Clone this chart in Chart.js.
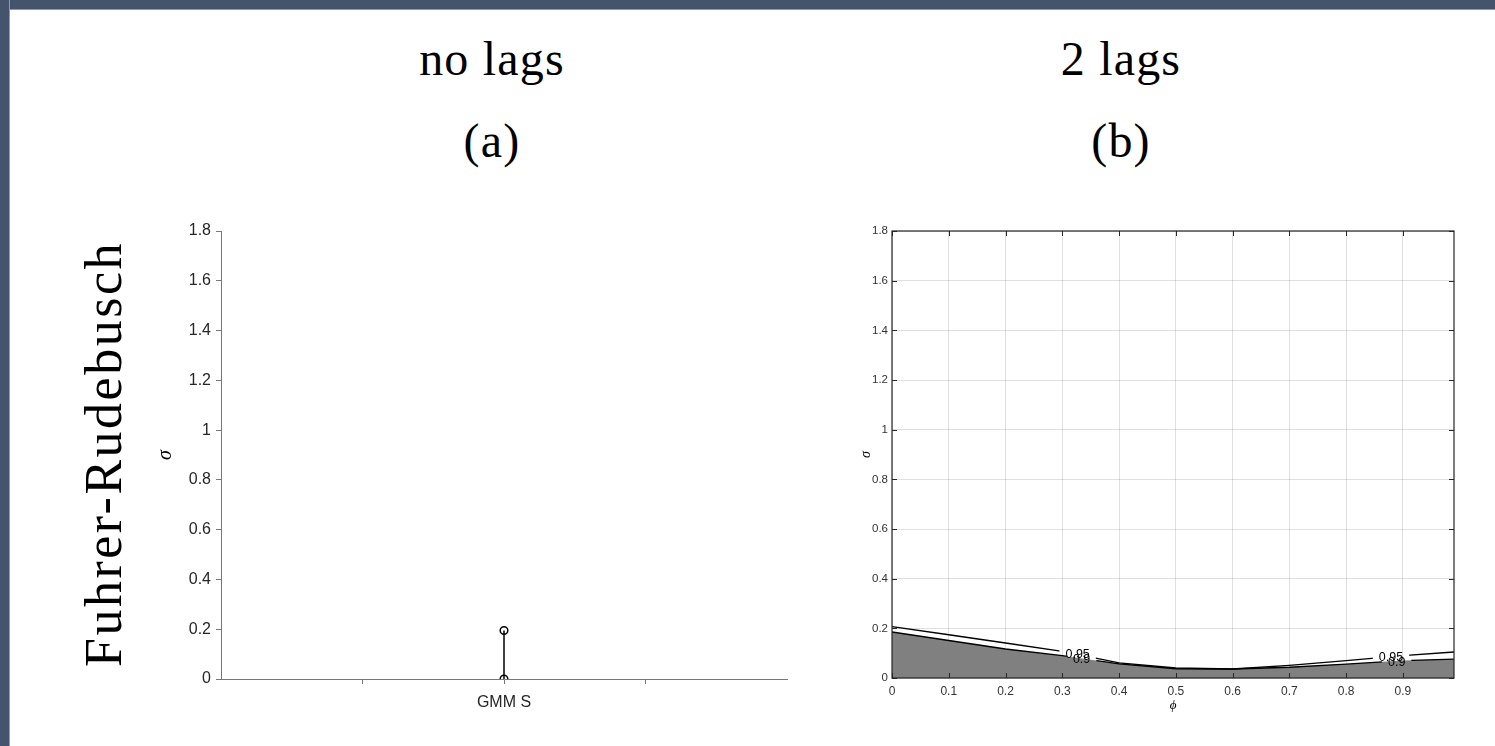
<!DOCTYPE html>
<html>
<head>
<meta charset="utf-8">
<title>Fuhrer-Rudebusch</title>
<script src="https://cdn.jsdelivr.net/npm/chart.js@4.4.0/dist/chart.umd.min.js"></script>
<style>
    html, body { margin: 0; padding: 0; background: #fff; }
    #page { position: relative; width: 1495px; height: 746px; overflow: hidden; background: #fff; }
    .frame-top { position: absolute; left: 0; top: 0; width: 1495px; height: 9px; background: #44546c; border-bottom: 1px solid #8d9bb0; }
    .frame-left { position: absolute; left: 0; top: 0; width: 9px; height: 746px; background: #44546c; border-right: 1px solid #8d9bb0; }
    .title { position: absolute; width: 300px; text-align: center; font-family: 'Liberation Serif', serif; font-size: 48px; line-height: 1; color: #000; letter-spacing: 1.2px; white-space: nowrap; }
    .row-label { position: absolute; left: -146px; top: 428px; width: 500px; height: 52px; text-align: center; font-family: 'Liberation Serif', serif; font-size: 52px; line-height: 1; color: #000; letter-spacing: 2.5px; transform: rotate(-90deg); white-space: nowrap; }
    canvas { position: absolute; }
</style>
</head>
<body>
<div id="page">
    <div class="frame-top"></div>
    <div class="frame-left"></div>

    <div class="title" style="left: 342px; top: 35px;">no lags</div>
    <div class="title" style="left: 342px; top: 117px;">(a)</div>
    <div class="title" style="left: 971px; top: 35px;">2 lags</div>
    <div class="title" style="left: 971px; top: 117px;">(b)</div>
    <div class="row-label">Fuhrer-Rudebusch</div>

    <canvas id="chartA" width="700" height="530" style="left: 120px; top: 200px;"></canvas>
    <canvas id="chartB" width="670" height="530" style="left: 820px; top: 200px;"></canvas>
</div>

<script>
// Shared sigma axis
const sigmaTicks = [0, 0.2, 0.4, 0.6, 0.8, 1, 1.2, 1.4, 1.6, 1.8];

// Panel (a): single GMM S estimate drawn as a stem
const gmmPositions = [1, 2, 3];
const gmmLabels = ['', 'GMM S', ''];
const gmmStemBase = [0];
const gmmStemTop = [0.195];

// Panel (b): 0.95 and 0.9 contours over phi
const phiValues = [0, 0.1, 0.2, 0.3, 0.4, 0.5, 0.6, 0.7, 0.8, 0.9, 0.99];
const sigma95 = [0.207, 0.174, 0.141, 0.107, 0.061, 0.040, 0.036, 0.051, 0.070, 0.090, 0.105];
const sigma90 = [0.185, 0.151, 0.117, 0.090, 0.057, 0.037, 0.036, 0.043, 0.056, 0.070, 0.076];
const phiTicks = [0, 0.1, 0.2, 0.3, 0.4, 0.5, 0.6, 0.7, 0.8, 0.9];

// Inline contour labels
const contourLabels = ['0.95', '0.9', '0.95', '0.9'];
const contourLabelSeries = ['95', '90', '95', '90'];
const contourLabelPhi = [0.327, 0.334, 0.879, 0.889];
const contourLabelSigma = [0.094, 0.074, 0.082, 0.064];

Chart.defaults.font.family = "'Liberation Sans', Arial, sans-serif";
Chart.defaults.animation = false;

function fixedTicks(values) {
    return function(scale) {
        scale.ticks = values.map(v => ({ value: v }));
    };
}

function toPoints(xs, ys) {
    return xs.map((x, i) => ({ x: x, y: ys[i] }));
}

// Panel (a)
new Chart(document.getElementById('chartA'), {
    type: 'scatter',
    data: {
        datasets: [{
            data: [
                { x: gmmPositions[1], y: gmmStemBase[0] },
                { x: gmmPositions[1], y: gmmStemTop[0] }
            ],
            showLine: true,
            borderColor: '#000',
            borderWidth: 1.5,
            pointRadius: 3.8,
            pointBorderWidth: 1.5,
            pointBorderColor: '#000',
            pointBackgroundColor: 'rgba(0,0,0,0)'
        }]
    },
    options: {
        responsive: false,
        devicePixelRatio: 1,
        layout: { padding: { top: 31, right: 33, bottom: 0, left: 0 } },
        plugins: { legend: { display: false }, tooltip: { enabled: false } },
        scales: {
            x: {
                type: 'linear', min: 0, max: 4,
                afterBuildTicks: fixedTicks(gmmPositions),
                afterFit: s => { s.height = 51; },
                grid: { drawOnChartArea: false, drawTicks: true, tickLength: 5, tickColor: '#777', tickWidth: 1 },
                border: { display: true, color: '#777', width: 1 },
                ticks: {
                    autoSkip: false, maxRotation: 0, padding: 9, color: '#262626',
                    font: { size: 16 },
                    callback: v => gmmLabels[gmmPositions.indexOf(v)]
                }
            },
            y: {
                min: 0, max: 1.8,
                afterBuildTicks: fixedTicks(sigmaTicks),
                afterFit: s => { s.width = 101; },
                grid: { drawOnChartArea: false, drawTicks: true, tickLength: 5, tickColor: '#777', tickWidth: 1 },
                border: { display: true, color: '#777', width: 1 },
                ticks: { autoSkip: false, padding: 5, color: '#262626', font: { size: 16 }, callback: v => String(v) },
                title: {
                    display: true, text: 'σ', color: '#000',
                    font: { family: "'Liberation Serif', serif", style: 'italic', size: 20 },
                    padding: { top: 34, bottom: 0 }
                }
            }
        }
    }
});

// Cut gaps into the contour lines where their labels sit
const contourGapPlugin = {
    id: 'contourGap',
    beforeDatasetDraw(chart, args) {
        const ds = chart.data.datasets[args.index];
        if (!ds.gapSeries) return;
        const ctx = chart.ctx;
        const xs = chart.scales.x, ys = chart.scales.y;
        ctx.save();
        ctx.font = "12.5px 'Liberation Sans', Arial, sans-serif";
        ctx.beginPath();
        ctx.rect(0, 0, chart.width, chart.height);
        contourLabels.forEach((txt, i) => {
            if (contourLabelSeries[i] !== ds.gapSeries) return;
            const px = xs.getPixelForValue(contourLabelPhi[i]);
            const py = ys.getPixelForValue(contourLabelSigma[i]);
            const w = ctx.measureText(txt).width + 12;
            ctx.rect(px - w / 2, py - 8, w, 16);
        });
        ctx.clip('evenodd');
    },
    afterDatasetDraw(chart, args) {
        const ds = chart.data.datasets[args.index];
        if (ds.gapSeries) chart.ctx.restore();
    },
    afterDatasetsDraw(chart) {
        const ctx = chart.ctx;
        const xs = chart.scales.x, ys = chart.scales.y;
        ctx.save();
        ctx.font = "12.5px 'Liberation Sans', Arial, sans-serif";
        ctx.fillStyle = '#000';
        ctx.textAlign = 'center';
        ctx.textBaseline = 'middle';
        contourLabels.forEach((txt, i) => {
            ctx.fillText(txt, xs.getPixelForValue(contourLabelPhi[i]), ys.getPixelForValue(contourLabelSigma[i]));
        });
        ctx.restore();
    }
};

// Box around the axes with inward tick marks
const boxAxesPlugin = {
    id: 'boxAxes',
    afterDraw(chart) {
        const ctx = chart.ctx;
        const a = chart.chartArea;
        const xs = chart.scales.x, ys = chart.scales.y;
        const len = 5;
        ctx.save();
        ctx.strokeStyle = '#262626';
        ctx.lineWidth = 1;
        ctx.beginPath();
        phiTicks.forEach(v => {
            const px = Math.round(xs.getPixelForValue(v)) + 0.5;
            ctx.moveTo(px, a.bottom); ctx.lineTo(px, a.bottom - len);
            ctx.moveTo(px, a.top); ctx.lineTo(px, a.top + len);
        });
        sigmaTicks.forEach(v => {
            const py = Math.round(ys.getPixelForValue(v)) + 0.5;
            ctx.moveTo(a.left, py); ctx.lineTo(a.left + len, py);
            ctx.moveTo(a.right, py); ctx.lineTo(a.right - len, py);
        });
        ctx.stroke();
        ctx.lineWidth = 1.2;
        ctx.strokeRect(a.left, a.top, a.right - a.left, a.bottom - a.top);
        ctx.restore();
    }
};

// Panel (b)
new Chart(document.getElementById('chartB'), {
    type: 'line',
    data: {
        datasets: [
            {
                data: toPoints(phiValues, sigma90),
                fill: 'origin',
                backgroundColor: '#808080',
                borderWidth: 0,
                pointRadius: 0,
                order: 3
            },
            {
                data: toPoints(phiValues, sigma90),
                gapSeries: '90',
                fill: false,
                borderColor: '#000',
                borderWidth: 1.4,
                pointRadius: 0,
                order: 2
            },
            {
                data: toPoints(phiValues, sigma95),
                gapSeries: '95',
                fill: false,
                borderColor: '#000',
                borderWidth: 1.4,
                pointRadius: 0,
                order: 1
            }
        ]
    },
    options: {
        responsive: false,
        devicePixelRatio: 1,
        layout: { padding: { top: 31, right: 36, bottom: 0, left: 0 } },
        plugins: { legend: { display: false }, tooltip: { enabled: false } },
        scales: {
            x: {
                type: 'linear', min: 0, max: 0.99, z: 1,
                afterBuildTicks: fixedTicks(phiTicks),
                afterFit: s => { s.height = 52; },
                grid: { color: 'rgba(0,0,0,0.12)', drawTicks: false },
                border: { display: false },
                ticks: { autoSkip: false, maxRotation: 0, padding: 6, color: '#333', font: { size: 12 }, callback: v => String(v) },
                title: {
                    display: true, text: 'ϕ', color: '#000',
                    font: { family: "'Liberation Serif', serif", style: 'italic', size: 13 },
                    padding: { top: 0, bottom: 17 }
                }
            },
            y: {
                min: 0, max: 1.8, z: 1,
                afterBuildTicks: fixedTicks(sigmaTicks),
                afterFit: s => { s.width = 72; },
                grid: { color: 'rgba(0,0,0,0.12)', drawTicks: false },
                border: { display: false },
                ticks: { autoSkip: false, padding: 4, color: '#333', font: { size: 11.5 }, callback: v => String(v) },
                title: {
                    display: true, text: 'σ', color: '#000',
                    font: { family: "'Liberation Serif', serif", style: 'italic', size: 14 },
                    padding: { top: 38, bottom: 0 }
                }
            }
        }
    },
    plugins: [contourGapPlugin, boxAxesPlugin]
});
</script>
</body>
</html>
